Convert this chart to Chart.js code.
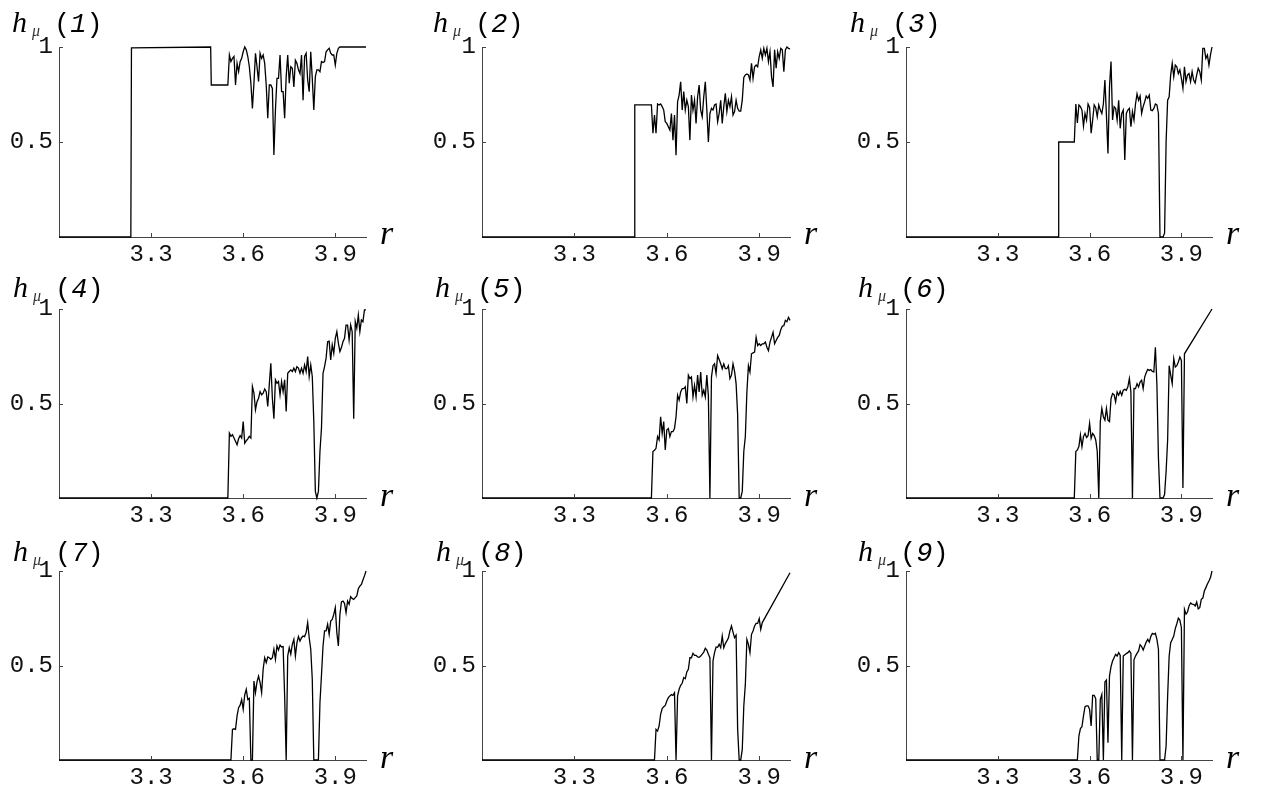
<!DOCTYPE html>
<html>
<head>
<meta charset="utf-8">
<script src="https://cdn.jsdelivr.net/npm/chart.js@4"></script>
<style>
  body { margin: 0; background: #fff; width: 1261px; height: 789px; position: relative; overflow: hidden; }
  .pane { position: absolute; }
</style>
</head>
<body>
<script>
// sampling of r over the chaotic part, shared by all nine panels
const rGrid = [
  3.55, 3.555, 3.56, 3.565, 3.57, 3.575, 3.58, 3.585, 3.59, 3.595,
  3.6, 3.605, 3.61, 3.615, 3.62, 3.625, 3.63, 3.635, 3.64, 3.645,
  3.65, 3.655, 3.66, 3.665, 3.67, 3.675, 3.68, 3.685, 3.69, 3.695,
  3.7, 3.705, 3.71, 3.715, 3.72, 3.725, 3.73, 3.735, 3.74, 3.745,
  3.75, 3.755, 3.76, 3.765, 3.77, 3.775, 3.78, 3.785, 3.79, 3.795,
  3.8, 3.805, 3.81, 3.815, 3.82, 3.825, 3.83, 3.835, 3.84, 3.845,
  3.85, 3.855, 3.86, 3.865, 3.87, 3.875, 3.88, 3.885, 3.89, 3.895,
  3.9, 3.905, 3.91, 3.915, 3.92, 3.925, 3.93, 3.935, 3.94, 3.945,
  3.95, 3.955, 3.96, 3.965, 3.97, 3.975, 3.98, 3.985, 3.99, 3.995,
  4.0
];

// flat part before r = 3.55
const lead1R = [3.0, 3.234, 3.236, 3.494, 3.496];
const lead1H = [0, 0, 0.995, 1, 0.80];
const lead2R = [3.0, 3.494, 3.496];
const lead2H = [0, 0, 0.695];
const lead3R = [3.0, 3.497, 3.499];
const lead3H = [0, 0, 0.5];
const leadZeroR = [3.0];
const leadZeroH = [0];

const h1 = [
  0.80, 0.958, 0.923, 0.94, 0.95, 0.80, 0.914, 0.87, 0.923, 0.94,
  0.975, 1.0, 0.985, 0.95, 0.896, 0.81, 0.677, 0.81, 0.967, 0.896,
  0.818, 0.967, 0.94, 0.958, 0.914, 0.80, 0.625, 0.80, 0.80, 0.782,
  0.432, 0.668, 0.835, 0.835, 0.958, 0.765, 0.765, 0.625, 0.844, 0.958,
  0.81, 0.896, 0.888, 0.79, 0.93, 0.914, 0.88, 0.86, 0.958, 0.72,
  0.95, 0.967, 0.826, 0.765, 0.975, 0.835, 0.668, 0.844, 0.88, 0.88,
  0.87, 0.923, 0.918, 0.923, 0.975, 0.985, 0.993, 0.967, 0.958, 0.958,
  0.905, 0.967, 0.993, 1, 1, 1, 1, 1, 1, 1,
  1, 1, 1, 1, 1, 1, 1, 1, 1, 1,
  1
];
const h2 = [
  0.695, 0.546, 0.642, 0.546, 0.70, 0.695, 0.70, 0.686, 0.668, 0.607,
  0.598, 0.58, 0.563, 0.65, 0.51, 0.642, 0.43, 0.712, 0.747, 0.817,
  0.668, 0.765, 0.668, 0.72, 0.686, 0.51, 0.747, 0.668, 0.72, 0.598,
  0.738, 0.80, 0.668, 0.633, 0.738, 0.817, 0.668, 0.50, 0.65, 0.677,
  0.668, 0.695, 0.70, 0.607, 0.65, 0.72, 0.598, 0.686, 0.756, 0.66,
  0.72, 0.686, 0.738, 0.642, 0.66, 0.72, 0.677, 0.663, 0.663, 0.72,
  0.84, 0.853, 0.858, 0.853, 0.826, 0.914, 0.835, 0.896, 0.905, 0.896,
  0.95, 0.985, 0.94, 0.993, 0.958, 0.993, 0.923, 0.975, 0.844, 0.79,
  0.985, 0.888, 0.975, 0.94, 0.993, 0.985, 0.87, 0.985, 1.0, 0.993,
  0.99
];
const h3 = [
  0.5, 0.70, 0.60, 0.695, 0.686, 0.668, 0.584, 0.65, 0.616, 0.70,
  0.682, 0.546, 0.616, 0.695, 0.68, 0.633, 0.695, 0.668, 0.65, 0.70,
  0.826, 0.642, 0.44, 0.79, 0.923, 0.616, 0.686, 0.677, 0.616, 0.72,
  0.572, 0.65, 0.668, 0.405, 0.65, 0.668, 0.677, 0.58, 0.66, 0.616,
  0.70, 0.753, 0.72, 0.742, 0.65, 0.686, 0.712, 0.742, 0.73, 0.747,
  0.668, 0.665, 0.677, 0.70, 0.695, 0.65, 0, 0, 0, 0.02,
  0.50, 0.72, 0.738, 0.853, 0.914, 0.844, 0.905, 0.896, 0.86, 0.88,
  0.835, 0.782, 0.896, 0.818, 0.853, 0.86, 0.818, 0.87, 0.826, 0.81,
  0.853, 0.888, 0.87, 0.826, 0.993, 0.993, 0.94, 0.958, 0.905, 0.958,
  1.0
];
const h4 = [
  0, 0.343, 0.326, 0.335, 0.317, 0.30, 0.282, 0.313, 0.33, 0.317,
  0.405, 0.29, 0.303, 0.313, 0.326, 0.317, 0.59, 0.555, 0.467, 0.51,
  0.528, 0.563, 0.546, 0.555, 0.577, 0.563, 0.484, 0.60, 0.713, 0.528,
  0.42, 0.625, 0.607, 0.616, 0.546, 0.616, 0.563, 0.625, 0.458, 0.66,
  0.669, 0.678, 0.669, 0.687, 0.669, 0.695, 0.687, 0.66, 0.687, 0.66,
  0.704, 0.669, 0.748, 0.643, 0.704, 0.643, 0.405, 0.035, 0, 0.035,
  0.246, 0.37, 0.66, 0.695, 0.74, 0.827, 0.83, 0.73, 0.81, 0.766,
  0.845, 0.88, 0.819, 0.775, 0.796, 0.827, 0.845, 0.915, 0.915, 0.836,
  0.915, 0.88, 0.42, 0.933, 0.898, 0.968, 0.88, 0.942, 0.933, 0.995,
  0.995
];
const h5 = [
  0, 0.246, 0.253, 0.263, 0.325, 0.307, 0.43, 0.342, 0.404, 0.254,
  0.36, 0.368, 0.325, 0.351, 0.351, 0.368, 0.43, 0.544, 0.518, 0.561,
  0.579, 0.579, 0.588, 0.50, 0.65, 0.632, 0.64, 0.535, 0.596, 0.535,
  0.65, 0.561, 0.667, 0.544, 0.57, 0.535, 0.65, 0.54, 0, 0.64,
  0.70, 0.71, 0.658, 0.754, 0.733, 0.71, 0.684, 0.71, 0.684, 0.684,
  0.70, 0.632, 0.65, 0.71, 0.67, 0.605, 0.44, 0, 0, 0.035,
  0.246, 0.325, 0.56, 0.70, 0.667, 0.763, 0.768, 0.772, 0.85, 0.807,
  0.816, 0.807, 0.816, 0.816, 0.825, 0.798, 0.78, 0.825, 0.85, 0.877,
  0.816, 0.833, 0.85, 0.86, 0.89, 0.909, 0.912, 0.94, 0.933, 0.956,
  0.94
];
const h6 = [
  0, 0.246, 0.254, 0.272, 0.333, 0.272, 0.325, 0.342, 0.32, 0.33,
  0.395, 0.316, 0.342, 0.33, 0.307, 0.246, 0, 0.404, 0.474, 0.43,
  0.412, 0.474, 0.412, 0.404, 0.526, 0.553, 0.547, 0.509, 0.561, 0.544,
  0.565, 0.544, 0.57, 0.575, 0.57, 0.588, 0.632, 0.561, 0, 0.58,
  0.579, 0.605, 0.588, 0.614, 0.623, 0.579, 0.64, 0.663, 0.68, 0.675,
  0.68, 0.67, 0.667, 0.798, 0.596, 0.21, 0, 0, 0, 0.018,
  0.14, 0.307, 0.70, 0.65, 0.605, 0.737, 0.693, 0.70, 0.72, 0.746,
  0.728, 0.053, 0.763, null, null, null, null, null, null, null,
  null, null, null, null, null, null, null, null, null, null,
  1.0
];
const h7 = [
  0, 0, 0, 0.162, 0.165, 0.162, 0.233, 0.277, 0.29, 0.32,
  0.268, 0.344, 0.374, 0.32, 0.326, 0, 0, 0.418, 0.356, 0.413,
  0.444, 0.41, 0.356, 0.48, 0.541, 0.515, 0.545, 0.541, 0.533, 0.541,
  0.586, 0.533, 0.603, 0.582, 0.608, 0.598, 0.60, 0.339, 0, 0.55,
  0.594, 0.56, 0.612, 0.638, 0.55, 0.62, 0.653, 0.63, 0.647, 0.656,
  0.653, 0.674, 0.727, 0.647, 0.586, 0.427, 0, 0, 0, 0,
  0.303, 0.45, 0.603, 0.683, 0.683, 0.718, 0.665, 0.735, 0.744, 0.77,
  0.806, 0.674, 0.603, 0.77, 0.836, 0.841, 0.829, 0.78, 0.841, 0.824,
  0.864, 0.855, 0.85, 0.859, 0.868, 0.906, 0.92, 0.929, 0.952, 0.974,
  1.0
];
const h8 = [
  0, 0, 0, 0.162, 0.153, 0.18, 0.242, 0.272, 0.282, 0.289,
  0.312, 0.33, 0.339, 0.346, 0.342, 0.356, 0, 0.339, 0.374, 0.395,
  0.406, 0.436, 0.43, 0.466, 0.48, 0.541, 0.541, 0.564, 0.554, 0.554,
  0.545, 0.543, 0.55, 0.56, 0.571, 0.591, 0.582, 0.56, 0.541, 0,
  0.524, 0.568, 0.598, 0.596, 0.612, 0.594, 0.656, 0.594, 0.616, 0.63,
  0.646, 0.683, 0.709, 0.677, 0.647, 0.66, 0.162, 0, 0, 0.056,
  0.286, 0.40, 0.638, 0.612, 0.568, 0.665, 0.683, 0.709, 0.723, 0.723,
  0.748, 0.691, 0.727, null, null, null, null, null, null, null,
  null, null, null, null, null, null, null, null, null, null,
  0.991
];
const h9 = [
  0, 0, 0, 0.127, 0.166, 0.176, 0.233, 0.282, 0.286, 0.286,
  0.268, 0.18, 0.342, 0.342, 0.325, 0, 0, 0.321, 0.347, 0,
  0.413, 0.423, 0.092, 0.444, 0.494, 0.524, 0.541, 0.559, 0.55, 0.568,
  0.554, 0, 0.55, 0.557, 0.563, 0.568, 0.577, 0.564, 0, 0.53,
  0.55, 0.564, 0.577, 0.61, 0.60, 0.582, 0.603, 0.624, 0.638, 0.624,
  0.653, 0.67, 0.665, 0.67, 0.638, 0.586, 0, 0, 0, 0,
  0.074, 0.339, 0.55, 0.621, 0.638, 0.656, 0.695, 0.721, 0.75, 0.74,
  0.70, 0, 0.797, 0.772, 0.783, 0.815, 0.831, 0.825, 0.824, 0.815,
  0.836, 0.80, 0.806, 0.85, 0.857, 0.894, 0.912, 0.931, 0.947, 0.965,
  1.0
];

const panelNames = ['1', '2', '3', '4', '5', '6', '7', '8', '9'];
const rTicks = [3.3, 3.6, 3.9];
const rTickLabels = ['3.3', '3.6', '3.9'];
const hTicks = [0.5, 1];
const hTickLabels = ['0.5', '1'];

const panels = [
  { lead: [lead1R, lead1H], h: h1 },
  { lead: [lead2R, lead2H], h: h2 },
  { lead: [lead3R, lead3H], h: h3 },
  { lead: [leadZeroR, leadZeroH], h: h4 },
  { lead: [leadZeroR, leadZeroH], h: h5 },
  { lead: [leadZeroR, leadZeroH], h: h6 },
  { lead: [leadZeroR, leadZeroH], h: h7 },
  { lead: [leadZeroR, leadZeroH], h: h8 },
  { lead: [leadZeroR, leadZeroH], h: h9 }
];

// page layout (pixels)
const colSpan = [[59, 366], [482, 790], [906, 1212]];
const rowSpan = [[47, 237], [309, 498], [571, 760]];
const titleDx = [[-47, -49, -56], [-46, -47, -48], [-46, -46, -48]];
const titleDy = [-15, -12, -10];
const rDx = 14;
const rDy = [7, 8, 8];
const padL = 62, padT = 47, padR = 45, padB = 34;

const panelText = {
  id: 'panelText',
  afterDraw(chart, args, o) {
    const { ctx, chartArea: a, scales } = chart;
    ctx.save();
    // small inward tick marks
    ctx.strokeStyle = '#444';
    ctx.lineWidth = 1;
    ctx.beginPath();
    rTicks.forEach(v => {
      const px = Math.round(scales.x.getPixelForValue(v)) + 0.5;
      ctx.moveTo(px, a.bottom);
      ctx.lineTo(px, a.bottom - 4);
    });
    hTicks.forEach(v => {
      const py = Math.round(scales.y.getPixelForValue(v)) + 0.5;
      ctx.moveTo(a.left, py);
      ctx.lineTo(a.left + 4, py);
    });
    ctx.stroke();

    ctx.fillStyle = '#000';
    ctx.textAlign = 'left';
    ctx.textBaseline = 'alphabetic';
    const tx = a.left + o.dx, ty = a.top + o.dy;
    ctx.font = 'italic 30px "Liberation Serif"';
    ctx.fillText('h', tx, ty);
    ctx.fillStyle = '#333';
    ctx.font = 'italic 16px "Liberation Serif"';
    ctx.fillText('\u03bc', tx + 20, ty + 4);
    ctx.fillStyle = '#000';
    ctx.font = '27px "Liberation Mono"';
    const w = ctx.measureText('(').width;
    ctx.fillText('(', tx + 42, ty);
    ctx.font = 'italic 27px "Liberation Mono"';
    ctx.fillText(o.num, tx + 42 + w, ty);
    ctx.font = '27px "Liberation Mono"';
    ctx.fillText(')', tx + 42 + 2 * w, ty);

    ctx.font = 'italic 34px "Liberation Serif"';
    ctx.fillText('r', a.right + o.rdx, a.bottom + o.rdy);
    ctx.restore();
  }
};

panels.forEach((p, k) => {
  const row = Math.floor(k / 3), col = k % 3;
  const [l, r] = colSpan[col];
  const [t, b] = rowSpan[row];
  const box = document.createElement('div');
  box.className = 'pane';
  box.style.left = (l - padL) + 'px';
  box.style.top = (t - padT) + 'px';
  box.style.width = (r - l + padL + padR) + 'px';
  box.style.height = (b - t + padT + padB) + 'px';
  const cv = document.createElement('canvas');
  box.appendChild(cv);
  document.body.appendChild(box);

  const [leadR, leadH] = p.lead;
  const pts = leadR.map((x, i) => ({ x: x, y: leadH[i] }))
    .concat(rGrid.map((x, i) => ({ x: x, y: p.h[i] })));

  new Chart(cv.getContext('2d'), {
    type: 'line',
    data: {
      datasets: [{
        data: pts,
        borderColor: '#000',
        borderWidth: 1.3,
        pointRadius: 0,
        tension: 0,
        fill: false,
        spanGaps: true,
        clip: false
      }]
    },
    plugins: [panelText],
    options: {
      animation: false,
      responsive: true,
      maintainAspectRatio: false,
      layout: { padding: { top: padT, right: padR, left: 0, bottom: 0 } },
      plugins: {
        legend: { display: false },
        tooltip: { enabled: false },
        panelText: { num: panelNames[k], dx: titleDx[row][col], dy: titleDy[row], rdx: rDx, rdy: rDy[row] }
      },
      scales: {
        x: {
          type: 'linear',
          min: 3,
          max: 4,
          grid: { display: false, drawTicks: false },
          border: { display: true, color: '#444', width: 1 },
          afterBuildTicks: s => { s.ticks = rTicks.map(v => ({ value: v })); },
          afterFit: s => { s.height = padB; },
          ticks: {
            autoSkip: false,
            maxRotation: 0,
            padding: 3,
            color: '#111',
            font: { family: 'Liberation Mono', size: 24 },
            callback: (v, i) => rTickLabels[i]
          }
        },
        y: {
          type: 'linear',
          min: 0,
          max: 1,
          grid: { display: false, drawTicks: false },
          border: { display: true, color: '#444', width: 1 },
          afterBuildTicks: s => { s.ticks = hTicks.map(v => ({ value: v })); },
          afterFit: s => { s.width = padL; },
          ticks: {
            padding: 6,
            color: '#111',
            font: { family: 'Liberation Mono', size: 24 },
            callback: (v, i) => hTickLabels[i]
          }
        }
      }
    }
  });
});
</script>
</body>
</html>
